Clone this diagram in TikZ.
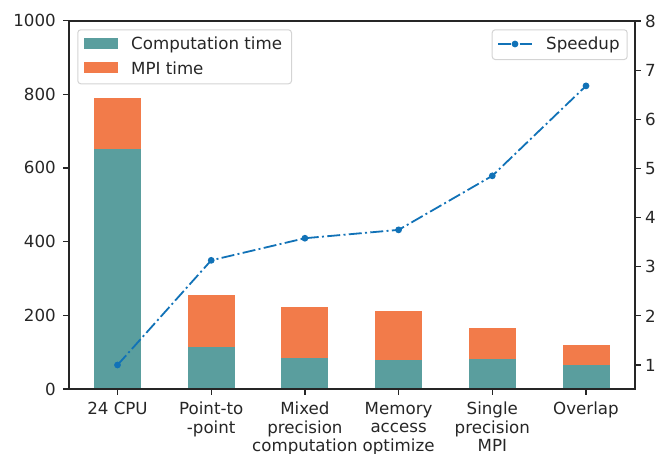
\documentclass[tikz,border=0pt]{standalone}
\usepackage{fontspec}
\setmainfont{DejaVu Sans}
\definecolor{compcol}{HTML}{5A9E9E}
\definecolor{mpicol}{HTML}{F27B4A}
\definecolor{spdcol}{HTML}{1172B7}
\definecolor{ink}{HTML}{262626}
\definecolor{legframe}{HTML}{D4D4D4}

\begin{document}
\begin{tikzpicture}[x=1pt,y=-1pt,
  lbl/.style={font=\fontsize{16.67}{18.5}\selectfont, text=ink, inner sep=0pt},
  frame/.style={draw=ink, line width=1.4pt},
  tickmark/.style={draw=ink, line width=1.2pt},
  legbox/.style={draw=legframe, fill=white, fill opacity=0.8, rounded corners=3pt,
                 line width=1pt, inner sep=0pt, anchor=north west},
  spdline/.style={draw=spdcol, line width=1.8pt,
                  dash pattern=on 13pt off 3.3pt on 2pt off 3.3pt},
  spdmark/.style={circle, fill=spdcol, inner sep=0pt, minimum size=6.8pt}
]
\useasboundingbox (0,0) rectangle (668,453);

% stacked bars: computation time below, MPI time on top
\foreach \i/\c/\t in {0/650/790, 1/114/255, 2/84/222, 3/79/212, 4/81/165, 5/65/119} {
  \pgfmathsetmacro{\xc}{117.5+93.7*\i}
  \fill[compcol] ({\xc-23.5}, {389-0.3685*\c}) rectangle ({\xc+23.5}, 389);
  \fill[mpicol]  ({\xc-23.5}, {389-0.3685*\t}) rectangle ({\xc+23.5}, {389-0.3685*\c});
}

% axes frame
\draw[frame] (69,21) rectangle (635,389);

% left axis: time
\foreach \v [count=\k] in {0,200,400,600,800,1000} {
  \pgfmathsetmacro{\yy}{389-0.3685*\v}
  \draw[tickmark] (63,\yy) -- (69,\yy);
  \node[lbl, anchor=east] (yl\k) at (56,\yy) {\v};
}

% right axis: speedup
\foreach \v in {1,...,8} {
  \pgfmathsetmacro{\yy}{365-49.14*(\v-1)}
  \draw[tickmark] (635,\yy) -- (641,\yy);
  \node[lbl, anchor=west] (yr\v) at (645,\yy) {\v};
}

% categories
\foreach \i/\name [count=\k] in {0/{24 CPU}, 1/{Point-to\\-point}, 2/{Mixed\\precision\\computation},
                                 3/{Memory\\access\\optimize}, 4/{Single\\precision\\MPI}, 5/{Overlap}} {
  \pgfmathsetmacro{\xc}{117.5+93.7*\i}
  \draw[tickmark] (\xc,389) -- (\xc,395);
  \node[lbl, anchor=north, align=center] (xl\k) at (\xc,402) {\name};
}

% speedup curve
\foreach \i/\s [count=\k] in {0/1.0, 1/3.13, 2/3.58, 3/3.75, 4/4.85, 5/6.68} {
  \pgfmathsetmacro{\xc}{117.5+93.7*\i}
  \coordinate (s\k) at (\xc, {365-49.14*(\s-1)});
}
\draw[spdline] (s1) -- (s2) -- (s3) -- (s4) -- (s5) -- (s6);
\foreach \k in {1,...,6} { \node[spdmark] (m\k) at (s\k) {}; }

% legend for the bars
\node[legbox, minimum width=213.7pt, minimum height=54pt] (legA) at (77.3,29.3) {};
\fill[compcol] (84,38) rectangle (118,49.3);
\fill[mpicol] (84,61.7) rectangle (118,73.3);
\node[lbl, anchor=base west] (legAt1) at (131,49.3) {Computation time};
\node[lbl, anchor=base west] (legAt2) at (131,74) {MPI time};

% legend for the speedup curve
\node[legbox, minimum width=135pt, minimum height=29.7pt] (legB) at (491.7,29.3) {};
\coordinate (lb1) at (498,44);
\coordinate (lb2) at (531.7,44);
\draw[spdline] (lb1) -- (lb2);
\node[spdmark] (lbm) at (515,44) {};
\node[lbl, anchor=base west] (legBt) at (546,49.3) {Speedup};
\end{tikzpicture}
\end{document}
